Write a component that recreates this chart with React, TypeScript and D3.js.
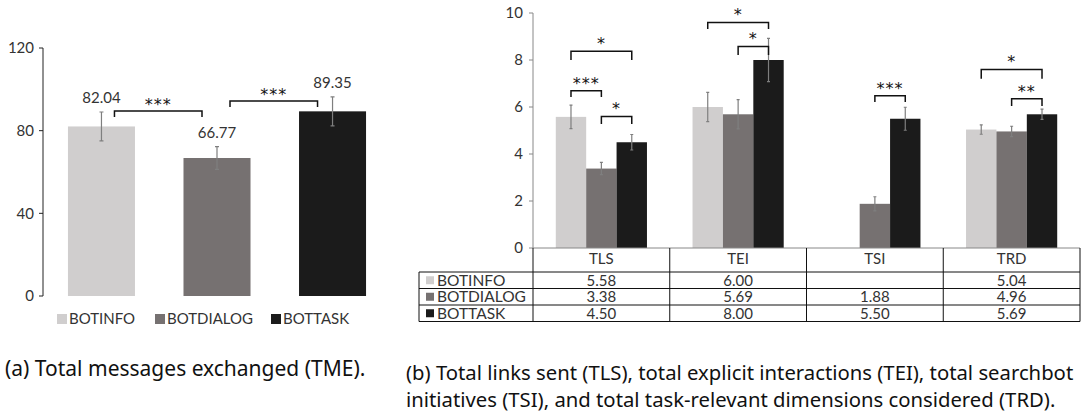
import React, { useEffect, useRef } from 'react';
import * as d3 from 'd3';

// shared series
const seriesNames = ['BOTINFO', 'BOTDIALOG', 'BOTTASK'];
const seriesColors = ['#d0cece', '#767171', '#1b1b1b'];

// (a) total messages exchanged
const tmeValues = [82.04, 66.77, 89.35];
const tmeErrors = [7.0, 5.5, 7.0];
const tmeTicks = [0, 40, 80, 120];
const tmeBrackets = [
  { from: 0, to: 1, top: 89.5, bottom: 86.6, label: '***' },
  { from: 1, to: 2, top: 94.3, bottom: 91.4, label: '***' },
];

// (b) four measures
const measures = ['TLS', 'TEI', 'TSI', 'TRD'];
const botInfo = [5.58, 6.0, null, 5.04];
const botDialog = [3.38, 5.69, 1.88, 4.96];
const botTask = [4.5, 8.0, 5.5, 5.69];
const botInfoErr = [0.5, 0.62, null, 0.2];
const botDialogErr = [0.26, 0.62, 0.3, 0.22];
const botTaskErr = [0.33, 0.92, 0.49, 0.22];
const measureTicks = [0, 2, 4, 6, 8, 10];
const measureBrackets = [
  { group: 'TLS', from: 0, to: 2, top: 8.37, bottom: 8.0, label: '*' },
  { group: 'TLS', from: 0, to: 1, top: 6.69, bottom: 6.43, label: '***' },
  { group: 'TLS', from: 1, to: 2, top: 5.6, bottom: 5.28, label: '*' },
  { group: 'TEI', from: 0, to: 2, top: 9.6, bottom: 9.32, label: '*' },
  { group: 'TEI', from: 1, to: 2, top: 8.57, bottom: 8.21, label: '*' },
  { group: 'TSI', from: 1, to: 2, top: 6.48, bottom: 6.21, label: '***' },
  { group: 'TRD', from: 0, to: 2, top: 7.6, bottom: 7.2, label: '*' },
  { group: 'TRD', from: 1, to: 2, top: 6.35, bottom: 6.04, label: '**' },
];

const captionA = '(a) Total messages exchanged (TME).';
const captionB = [
  '(b) Total links sent (TLS), total explicit interactions (TEI), total searchbot',
  'initiatives (TSI), and total task-relevant dimensions considered (TRD).',
];

const W = 1085;
const H = 416;
const FONT = 'Lato, "Open Sans", sans-serif';
const CAPTION_FONT = '"Noto Sans", sans-serif';
const TEXT = '#333';
const ERR = '#7f7f7f';

const App = () => {
  const ref = useRef<SVGSVGElement>(null);

  useEffect(() => {
    const svg = d3.select(ref.current);
    svg.selectAll('*').remove();

    const starText = (g, x, yCenter, label, size) => {
      // asterisks sit high in the em box, so drop the baseline a bit
      g.append('text')
        .attr('x', x)
        .attr('y', yCenter + size * 0.55)
        .attr('text-anchor', 'middle')
        .style('font-family', 'DejaVu Sans, sans-serif')
        .style('font-size', `${size}px`)
        .style('letter-spacing', '1px')
        .style('fill', '#111')
        .text(label);
    };

    const bracket = (g, x0, x1, yTop, yBottom) => {
      g.append('path')
        .attr('d', `M${x0},${yBottom}V${yTop}H${x1}V${yBottom}`)
        .attr('fill', 'none')
        .attr('stroke', '#111')
        .attr('stroke-width', 1.5);
    };

    // ---------- (a) ----------
    const a = svg.append('g');
    const ay = d3.scaleLinear().domain([0, 120]).range([296, 48]);
    const ax = d3.scaleBand().domain(seriesNames).range([43, 391])
      .paddingInner(0.42).paddingOuter(0.216);

    a.append('line')
      .attr('x1', 43).attr('x2', 43)
      .attr('y1', ay(0)).attr('y2', ay(120))
      .attr('stroke', '#222');
    tmeTicks.forEach(t => {
      a.append('line')
        .attr('x1', 39).attr('x2', 43)
        .attr('y1', ay(t)).attr('y2', ay(t))
        .attr('stroke', '#222');
      a.append('text')
        .attr('x', 34).attr('y', ay(t))
        .attr('dy', '0.35em')
        .attr('text-anchor', 'end')
        .style('font-family', FONT).style('font-size', '15px')
        .style('fill', TEXT)
        .text(t);
    });

    seriesNames.forEach((s, i) => {
      const x = ax(s);
      a.append('rect')
        .attr('x', x).attr('y', ay(tmeValues[i]))
        .attr('width', ax.bandwidth())
        .attr('height', ay(0) - ay(tmeValues[i]))
        .attr('fill', seriesColors[i]);
      const cx = x + ax.bandwidth() / 2;
      const hi = ay(tmeValues[i] + tmeErrors[i]);
      const lo = ay(tmeValues[i] - tmeErrors[i]);
      a.append('path')
        .attr('d', `M${cx},${hi}V${lo}M${cx - 2},${hi}H${cx + 2}M${cx - 2},${lo}H${cx + 2}`)
        .attr('stroke', ERR).attr('stroke-width', 1.2).attr('fill', 'none');
      a.append('text')
        .attr('x', cx).attr('y', hi - 14)
        .attr('dy', '0.35em')
        .attr('text-anchor', 'middle')
        .style('font-family', FONT).style('font-size', '15px')
        .style('fill', TEXT)
        .text(tmeValues[i].toFixed(2));
    });

    tmeBrackets.forEach(b => {
      const x0 = ax(seriesNames[b.from]) + ax.bandwidth() / 2 + 13;
      const x1 = ax(seriesNames[b.to]) + ax.bandwidth() / 2 - 15;
      bracket(a, x0, x1, ay(b.top), ay(b.bottom));
      starText(a, (x0 + x1) / 2, ay(b.top) - 10, b.label, 16);
    });

    const legendX = [57, 155, 271];
    seriesNames.forEach((s, i) => {
      a.append('rect')
        .attr('x', legendX[i]).attr('y', 314)
        .attr('width', 10).attr('height', 10)
        .attr('fill', seriesColors[i]);
      a.append('text')
        .attr('x', legendX[i] + 12).attr('y', 319)
        .attr('dy', '0.35em')
        .style('font-family', FONT).style('font-size', '15px')
        .style('fill', TEXT)
        .text(s);
    });

    a.append('text')
      .attr('x', 5).attr('y', 376)
      .style('font-family', CAPTION_FONT).style('font-size', '21px')
      .style('fill', '#111')
      .text(captionA);

    // ---------- (b) ----------
    const b = svg.append('g');
    const by = d3.scaleLinear().domain([0, 10]).range([248, 13]);
    const bx = d3.scaleBand().domain(measures).range([533, 1080]);
    const bx1 = d3.scaleBand().domain(seriesNames).range([0, bx.bandwidth()])
      .paddingOuter(0.75);

    b.append('line')
      .attr('x1', 533).attr('x2', 533)
      .attr('y1', by(0)).attr('y2', by(10))
      .attr('stroke', '#888');
    measureTicks.forEach(t => {
      b.append('line')
        .attr('x1', 529).attr('x2', 533)
        .attr('y1', by(t)).attr('y2', by(t))
        .attr('stroke', '#888');
      b.append('text')
        .attr('x', 523).attr('y', by(t))
        .attr('dy', '0.35em')
        .attr('text-anchor', 'end')
        .style('font-family', FONT).style('font-size', '15px')
        .style('fill', TEXT)
        .text(t);
    });

    const values = [botInfo, botDialog, botTask];
    const errors = [botInfoErr, botDialogErr, botTaskErr];

    measures.forEach((m, j) => {
      seriesNames.forEach((s, i) => {
        const v = values[i][j];
        if (v == null) return;
        const x = bx(m) + bx1(s);
        b.append('rect')
          .attr('x', x).attr('y', by(v))
          .attr('width', bx1.bandwidth())
          .attr('height', by(0) - by(v))
          .attr('fill', seriesColors[i]);
        const e = errors[i][j];
        const cx = x + bx1.bandwidth() / 2;
        const hi = by(v + e);
        const lo = by(v - e);
        b.append('path')
          .attr('d', `M${cx},${hi}V${lo}M${cx - 1.5},${hi}H${cx + 1.5}M${cx - 1.5},${lo}H${cx + 1.5}`)
          .attr('stroke', ERR).attr('stroke-width', 1.2).attr('fill', 'none');
      });
    });

    measureBrackets.forEach(d => {
      const x0 = bx(d.group) + bx1(seriesNames[d.from]) + bx1.bandwidth() / 2;
      const x1 = bx(d.group) + bx1(seriesNames[d.to]) + bx1.bandwidth() / 2;
      bracket(b, x0, x1, by(d.top), by(d.bottom));
      starText(b, (x0 + x1) / 2, by(d.top) - 11, d.label, 16);
    });

    // data table under the bars
    const rowTop = [248, 272, 288.5, 305];
    const rowBottom = 321.5;
    const labelLeft = 419;

    // x axis / top of table
    b.append('line')
      .attr('x1', 533).attr('x2', 1080)
      .attr('y1', 248).attr('y2', 248)
      .attr('stroke', '#888');
    // horizontal rules
    rowTop.slice(1).concat([rowBottom]).forEach(y => {
      b.append('line')
        .attr('x1', labelLeft).attr('x2', 1080)
        .attr('y1', y).attr('y2', y)
        .attr('stroke', '#111');
    });
    // vertical rules
    b.append('line')
      .attr('x1', labelLeft).attr('x2', labelLeft)
      .attr('y1', rowTop[1]).attr('y2', rowBottom)
      .attr('stroke', '#111');
    measures.concat(['end']).forEach((m, j) => {
      const x = j < measures.length ? bx(m) : bx.range()[1];
      b.append('line')
        .attr('x1', x).attr('x2', x)
        .attr('y1', 248).attr('y2', rowBottom)
        .attr('stroke', '#111');
    });

    measures.forEach(m => {
      b.append('text')
        .attr('x', bx(m) + bx.bandwidth() / 2)
        .attr('y', (rowTop[0] + rowTop[1]) / 2 - 1)
        .attr('dy', '0.35em')
        .attr('text-anchor', 'middle')
        .style('font-family', FONT).style('font-size', '15px')
        .style('fill', TEXT)
        .text(m);
    });

    seriesNames.forEach((s, i) => {
      const y0 = rowTop[i + 1];
      const y1 = i + 2 < rowTop.length ? rowTop[i + 2] : rowBottom;
      const cy = (y0 + y1) / 2;
      b.append('rect')
        .attr('x', 426).attr('y', cy - 4)
        .attr('width', 8).attr('height', 8)
        .attr('fill', seriesColors[i]);
      b.append('text')
        .attr('x', 437).attr('y', cy)
        .attr('dy', '0.35em')
        .style('font-family', FONT).style('font-size', '15.5px')
        .style('fill', TEXT)
        .text(s);
      measures.forEach((m, j) => {
        const v = values[i][j];
        if (v == null) return;
        b.append('text')
          .attr('x', bx(m) + bx.bandwidth() / 2).attr('y', cy)
          .attr('dy', '0.35em')
          .attr('text-anchor', 'middle')
          .style('font-family', FONT).style('font-size', '15px')
          .style('fill', TEXT)
          .text(v.toFixed(2));
      });
    });

    captionB.forEach((line, i) => {
      b.append('text')
        .attr('x', 406).attr('y', 380 + i * 27)
        .style('font-family', CAPTION_FONT).style('font-size', '20.3px')
        .style('fill', '#111')
        .text(line);
    });
  }, []);

  return (
    <div style={{ position: 'absolute', left: 0, top: 0 }}>
      <svg ref={ref} width={W} height={H} style={{ display: 'block', background: '#fff' }}></svg>
    </div>
  );
};

export default App;
